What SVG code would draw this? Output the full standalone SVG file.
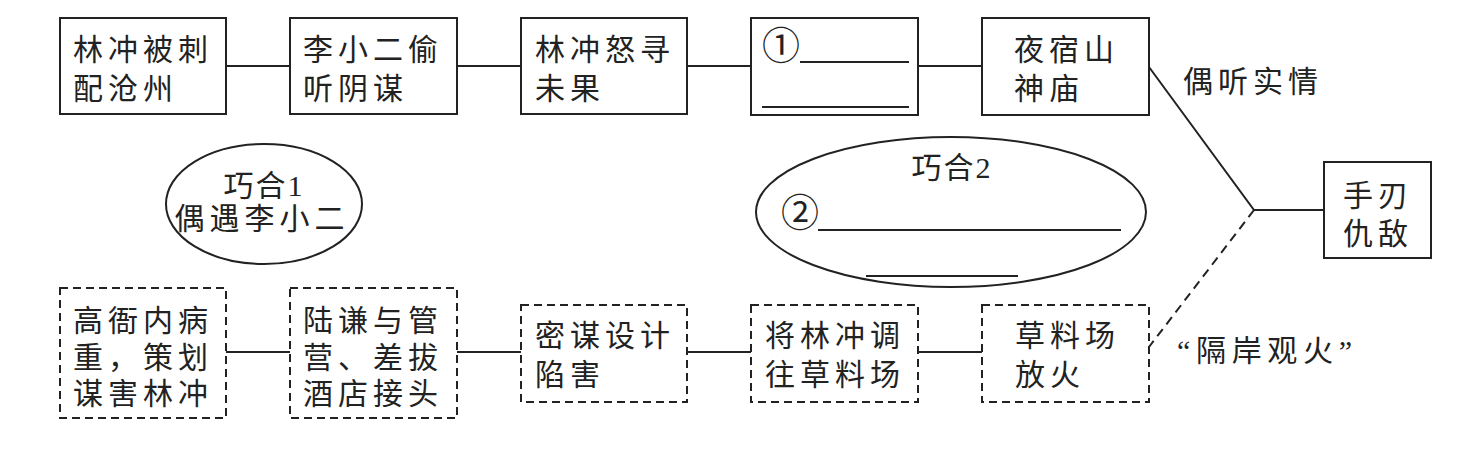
<svg xmlns="http://www.w3.org/2000/svg" width="1459" height="450" viewBox="0 0 1459 450">
<style>
  .bg { fill: #ffffff; }
  .box { fill: none; stroke: #222; stroke-width: 2; }
  .dbox { fill: none; stroke: #222; stroke-width: 2; stroke-dasharray: 8 5; }
  .line { fill: none; stroke: #222; stroke-width: 2; }
  .dline { fill: none; stroke: #222; stroke-width: 2; stroke-dasharray: 9 6; }
  .blank { fill: none; stroke: #222; stroke-width: 2; }
  text { font-family: "Liberation Serif", "Noto Sans CJK SC", serif; font-size: 30px; fill: #222; letter-spacing: 5px; }
  .mid { text-anchor: middle; }
  .circ { font-size: 38px; letter-spacing: 0; text-anchor: middle; }
</style>
<rect class="bg" x="0" y="0" width="1459" height="450"/>

<g id="connectors">
  <line class="line" x1="226" y1="66" x2="290" y2="66"/>
  <line class="line" x1="457" y1="66" x2="521" y2="66"/>
  <line class="line" x1="687" y1="66" x2="751" y2="66"/>
  <line class="line" x1="918" y1="66" x2="982" y2="66"/>
  <polyline class="line" points="1149,67 1254,210 1324,210"/>
  <line class="dline" x1="1254" y1="210" x2="1149" y2="347"/>
  <line class="line" x1="226" y1="352" x2="290" y2="352"/>
  <line class="line" x1="457" y1="352" x2="521" y2="352"/>
  <line class="line" x1="687" y1="352" x2="751" y2="352"/>
  <line class="line" x1="918" y1="352" x2="982" y2="352"/>
</g>

<g id="n1">
  <rect class="box" x="60" y="18" width="166" height="96"/>
  <text x="73" y="60">林冲被刺</text>
  <text x="73" y="99">配沧州</text>
</g>
<g id="n2">
  <rect class="box" x="290" y="18" width="167" height="96"/>
  <text x="303" y="60">李小二偷</text>
  <text x="303" y="99">听阴谋</text>
</g>
<g id="n3">
  <rect class="box" x="521" y="18" width="166" height="96"/>
  <text x="535" y="60">林冲怒寻</text>
  <text x="535" y="99">未果</text>
</g>
<g id="n4">
  <rect class="box" x="751" y="18" width="167" height="97"/>
  <text x="781" y="59" class="circ">①</text>
  <line class="blank" x1="800" y1="62" x2="909" y2="62"/>
  <line class="blank" x1="762" y1="107" x2="909" y2="107"/>
</g>
<g id="n5">
  <rect class="box" x="982" y="18" width="167" height="97"/>
  <text x="1014" y="60">夜宿山</text>
  <text x="1014" y="99">神庙</text>
</g>
<g id="label-outing">
  <text x="1183" y="92">偶听实情</text>
</g>
<g id="n6">
  <rect class="box" x="1324" y="162" width="107" height="96"/>
  <text x="1343" y="206">手刃</text>
  <text x="1343" y="244">仇敌</text>
</g>

<g id="e1">
  <ellipse class="box" cx="264" cy="204" rx="98" ry="60"/>
  <text x="264" y="196" class="mid" style="letter-spacing:2px">巧合1</text>
  <text x="262" y="229" class="mid">偶遇李小二</text>
</g>
<g id="e2">
  <ellipse class="box" cx="951" cy="212" rx="195" ry="75"/>
  <text x="952" y="178" class="mid" style="letter-spacing:2px">巧合2</text>
  <text x="800" y="226" class="circ">②</text>
  <line class="blank" x1="818" y1="230" x2="1121" y2="230"/>
  <line class="blank" x1="866" y1="276" x2="1018" y2="276"/>
</g>

<g id="b1">
  <rect class="dbox" x="60" y="288" width="166" height="130"/>
  <text x="73" y="331">高衙内病</text>
  <text x="73" y="368">重，策划</text>
  <text x="73" y="404">谋害林冲</text>
</g>
<g id="b2">
  <rect class="dbox" x="290" y="288" width="167" height="130"/>
  <text x="303" y="331">陆谦与管</text>
  <text x="303" y="368">营、差拔</text>
  <text x="303" y="404">酒店接头</text>
</g>
<g id="b3">
  <rect class="dbox" x="521" y="305" width="166" height="97"/>
  <text x="535" y="346">密谋设计</text>
  <text x="535" y="385">陷害</text>
</g>
<g id="b4">
  <rect class="dbox" x="751" y="305" width="167" height="97"/>
  <text x="765" y="346">将林冲调</text>
  <text x="765" y="385">往草料场</text>
</g>
<g id="b5">
  <rect class="dbox" x="982" y="305" width="167" height="97"/>
  <text x="1015" y="346">草料场</text>
  <text x="1015" y="385">放火</text>
</g>
<g id="label-fire">
  <text x="1177" y="361" textLength="180" lengthAdjust="spacing">“隔岸观火”</text>
</g>
</svg>
